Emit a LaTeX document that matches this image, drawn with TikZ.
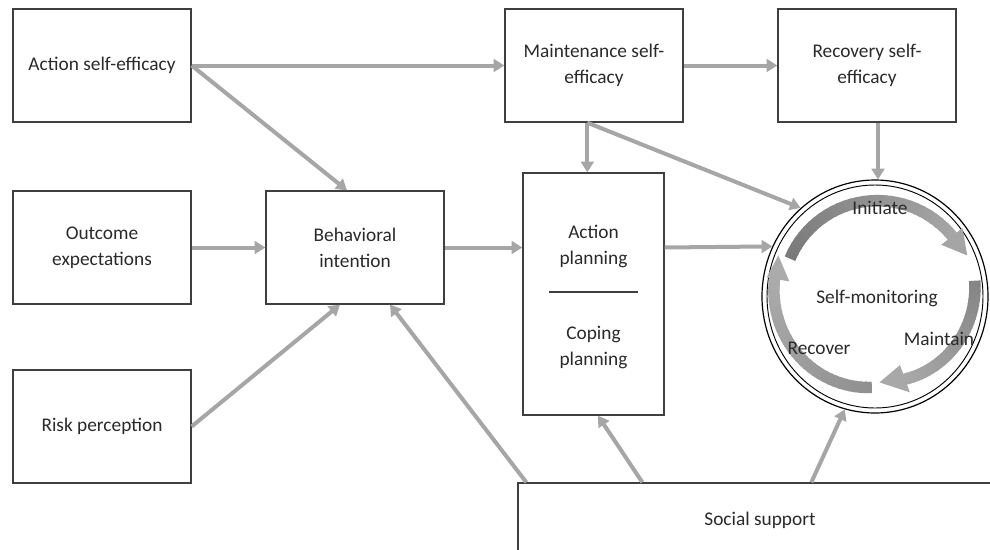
\documentclass[tikz,border=0pt]{standalone}
\usepackage{fontspec}
\setmainfont{Carlito}
\usetikzlibrary{arrows.meta,shapes.geometric,calc}
\definecolor{linkgray}{HTML}{A6A6A6}
\definecolor{boxline}{HTML}{3F3F3F}
\definecolor{txt}{HTML}{2A2A2A}
\definecolor{iniA}{HTML}{7A7A7A}
\definecolor{iniB}{HTML}{A5A5A5}
\definecolor{mntA}{HTML}{858585}
\definecolor{mntB}{HTML}{A8A8A8}
\definecolor{rcvA}{HTML}{909090}
\definecolor{rcvB}{HTML}{ABABAB}
\tikzset{
  box/.style={draw=boxline, line width=1pt, fill=white, minimum width=133.5pt,
    minimum height=84.75pt, inner sep=0pt, align=center, text=txt},
  lbl/.style={text=txt, align=center, inner sep=0pt},
  link/.style={draw=linkgray, line width=3pt, -{Triangle[length=8pt,width=9.5pt]}},
}
% curved band round the cycle centre (875,296.5), shaded from colour #5 to #6
% #1,#2 start/end angle, #3,#4 start/end radius
\newcommand\cycband[6]{%
  \foreach \i in {0,...,29}{%
    \pgfmathsetmacro\ta{#1+(#2-#1)*\i/30}%
    \pgfmathsetmacro\tb{#1+(#2-#1)*(\i+1.3)/30}%
    \pgfmathsetmacro\pc{100*\i/29}%
    \draw[line width=8.6pt, #6!\pc!#5] plot[variable=\t, domain=\ta:\tb, samples=4]
      ({875+(#3+(#4-#3)*(\t-#1)/(#2-#1))*cos(\t)},
       {296.5-(#3+(#4-#3)*(\t-#1)/(#2-#1))*sin(\t)});
  }%
}
% arrow head: base at angle #1 from radius #2 to #3, tip at angle #4 radius #5
\newcommand\cychead[6]{%
  \fill[#6] ({875+#2*cos(#1)},{296.5-#2*sin(#1)}) -- ({875+#3*cos(#1)},{296.5-#3*sin(#1)})
    -- ({875+#5*cos(#4)},{296.5-#5*sin(#4)}) -- cycle;
}
\begin{document}
\begin{tikzpicture}[x=0.75pt, y=-0.75pt, font=\fontsize{14.5}{19.5}\selectfont]
\clip (0,0) rectangle (990,550);
\fill[white] (0,0) rectangle (990,550);

% left column
\node[box] (ase) at (102,65.5) {Action self-efficacy};
\node[box] (oe)  at (102,247.5) {Outcome\\expectations};
\node[box] (rp)  at (102,426.5) {Risk perception};
% intention
\node[box] (bi)  at (355,247.5) {Behavioral\\intention};
% top row
\node[box] (mse) at (594,65.5) {Maintenance self-\\efficacy};
\node[box] (rse) at (867,65.5) {Recovery self-\\efficacy};
% planning
\node[box, minimum width=105.75pt, minimum height=181.5pt] (plan) at (593.5,294) {};
\node[lbl] (aplan) at (593.5,246) {Action\\planning};
\node[lbl] (cplan) at (593.5,348) {Coping\\planning};
\coordinate (divl) at ([xshift=-33.4pt,yshift=1.5pt]plan.center);
\coordinate (divr) at ([xshift=33.4pt,yshift=1.5pt]plan.center);
\draw[boxline, line width=0.9pt] (divl) -- (divr);
% social support
\node[box, minimum width=363pt, minimum height=55.5pt] (ss) at (760,520) {Social support};

% self-monitoring cycle
\node[draw=black, line width=0.9pt, ellipse, minimum width=169.5pt, minimum height=174.75pt, inner sep=0pt] (circ) at (875,296.5) {};
\draw[black, line width=0.7pt] (circ.center) ellipse [x radius=108, y radius=111.5];

\cycband{156}{38}{93}{98}{iniA}{iniB}
\cychead{38}{84}{111}{24}{101}{iniB}
\cycband{9}{-70}{101}{88}{mntA}{mntB}
\cychead{-70}{73}{102}{-87}{86}{mntB}
\cycband{-92}{-190}{91}{102}{rcvA}{rcvB}
\cychead{-190}{87}{110}{-203}{105}{rcvB}

\node[lbl] (ini) at (880,208) {Initiate};
\node[lbl] (smon) at (877,298) {Self-monitoring};
\node[lbl] (mnt) at (939,339) {Maintain};
\node[lbl] (rcv) at (819,348) {Recover};

% connectors
\draw[link] (ase.east) -- (mse.west);
\draw[link] (ase.east) -- ([xshift=-6pt]bi.north);
\draw[link] (oe.east) -- (bi.west);
\draw[link] (rp.east) -- ([xshift=-11.25pt]bi.south);
\draw[link] (bi.east) -- (bi.east -| plan.west);
\draw[link] (mse.east) -- (rse.west);
\coordinate (mfoot) at ([xshift=-5pt]mse.south);
\draw[link] (mfoot) -- (mfoot |- plan.north);
\draw[link] (mfoot) -- (circ.130);
\coordinate (rfoot) at ([xshift=8.25pt]rse.south);
\draw[link] (rfoot) -- (rfoot |- circ.north);
\draw[link] (bi.east -| plan.east) -- (circ.154.5);
\draw[link] ([xshift=6.75pt]ss.north west) -- ([xshift=26.25pt]bi.south);
\draw[link] ([xshift=93.75pt]ss.north west) -- ([xshift=3.4pt]plan.south);
\draw[link] ([xshift=220.5pt]ss.north west) -- (circ.255);
\end{tikzpicture}
\end{document}
